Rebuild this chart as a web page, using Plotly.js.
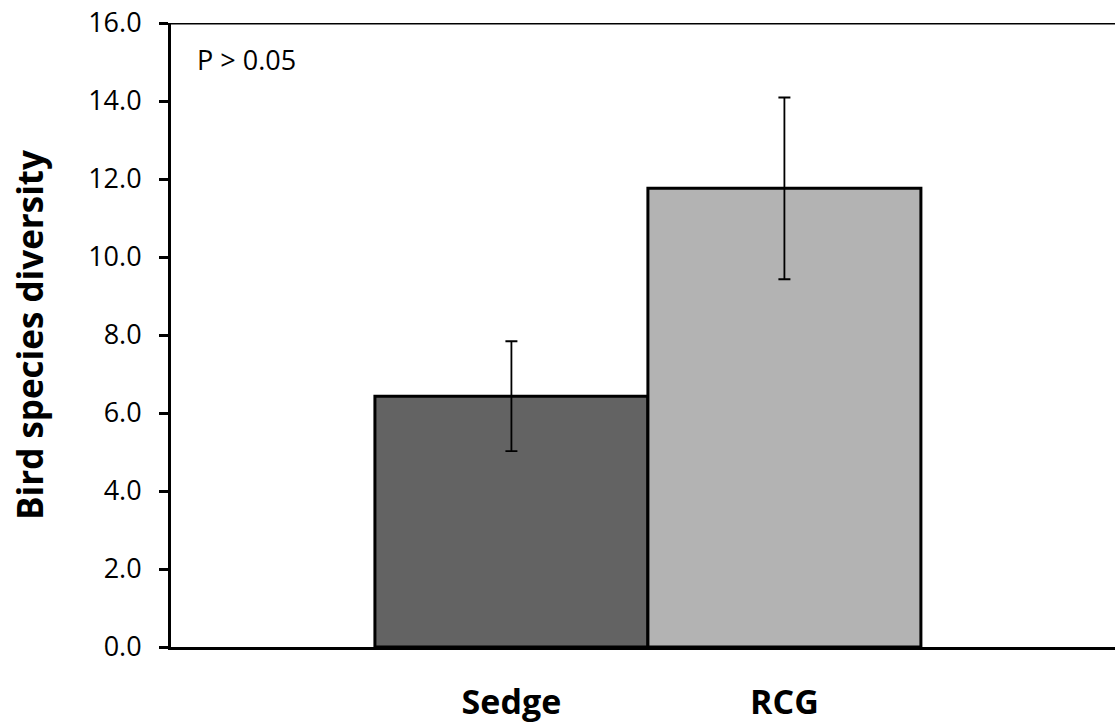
<!DOCTYPE html>
<html>
<head>
<meta charset="utf-8">
<script src="https://cdn.plot.ly/plotly-3.0.1.min.js"></script>
<style>html,body{margin:0;padding:0;background:#fff;}#chart{width:1115px;height:727px;}</style>
</head>
<body>
<div id="chart"></div>
<script>
var categories = ["Sedge", "RCG"];
var positions = [0, 1];
var meanValues = [6.43, 11.76];
var errorValues = [1.41, 2.33];
var barColors = ["#636363", "#b3b3b3"];
var yTickValues = [0, 2, 4, 6, 8, 10, 12, 14, 16];
var yTitle = "Bird species diversity";
var pNote = "P > 0.05";

var FONT = "'Open Sans', 'Noto Sans', sans-serif";

var trace = {
  type: "bar",
  x: positions,
  y: meanValues,
  width: 1,
  marker: {color: barColors, line: {color: "#000", width: 3}},
  error_y: {type: "data", array: errorValues, visible: true, color: "#000", thickness: 1.8, width: 6},
  hoverinfo: "none"
};

var layout = {
  width: 1115, height: 727,
  margin: {l: 171, r: 0, t: 23, b: 80},
  paper_bgcolor: "#fff", plot_bgcolor: "#fff",
  showlegend: false,
  font: {family: FONT, color: "#000"},
  xaxis: {
    range: [-1.247, 2.211],
    tickvals: positions,
    ticktext: categories,
    ticks: "",
    ticklabelstandoff: 23,
    tickfont: {family: FONT, size: 34, color: "#000", weight: "bold"},
    showgrid: false, zeroline: false,
    showline: true, linecolor: "#000", linewidth: 3,
    automargin: false,
    fixedrange: true
  },
  yaxis: {
    range: [0, 16],
    tickvals: yTickValues,
    tickformat: ".1f",
    ticks: "outside", ticklen: 9, tickwidth: 3, tickcolor: "#000",
    ticklabelstandoff: 12,
    tickfont: {family: FONT, size: 27, color: "#000"},
    showgrid: false, zeroline: false,
    showline: true, linecolor: "#000", linewidth: 3,
    title: {text: yTitle, font: {family: FONT, size: 35, color: "#000", weight: "bold"}, standoff: 34},
    automargin: false,
    fixedrange: true
  },
  shapes: [{
    type: "line", xref: "paper", yref: "y", x0: 0, x1: 1, y0: 16, y1: 16,
    line: {color: "#000", width: 3}
  }],
  annotations: [{
    text: pNote, xref: "paper", yref: "paper", x: 0.0254, y: 1,
    xanchor: "left", yanchor: "middle", yshift: -36, showarrow: false,
    font: {family: FONT, size: 27, color: "#000"}
  }]
};

Plotly.newPlot("chart", [trace], layout, {displayModeBar: false, staticPlot: true});
</script>
</body>
</html>
